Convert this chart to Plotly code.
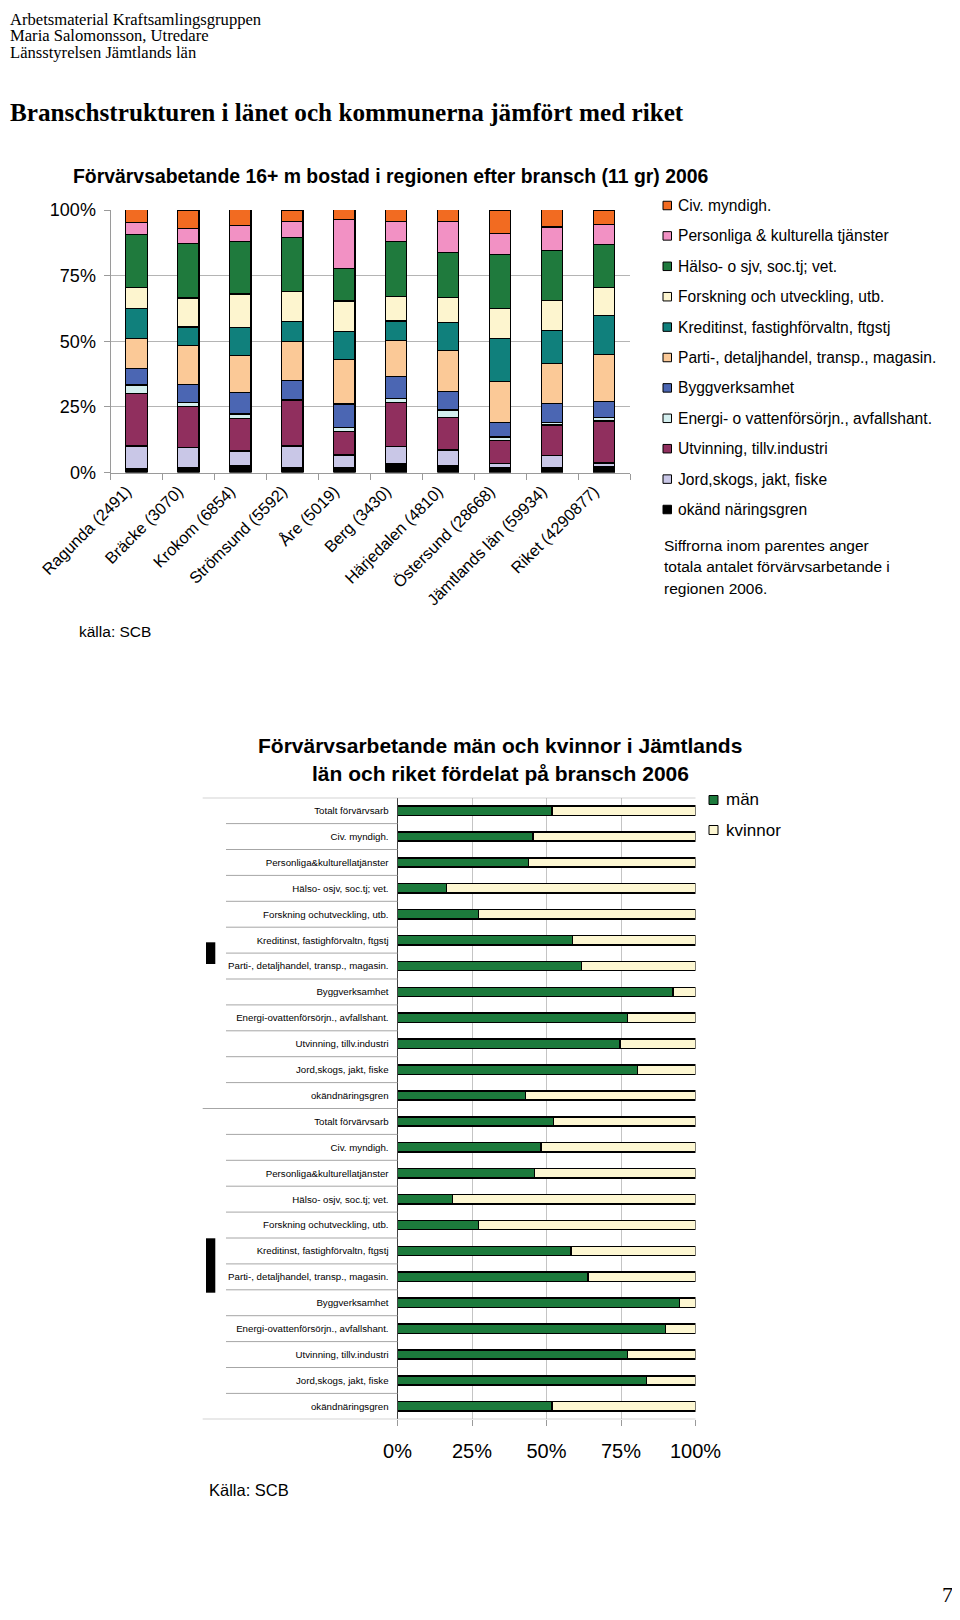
import plotly.graph_objects as go

PAGE_W, PAGE_H = 960, 1620
OFF = 8  # page body margin
W, H = PAGE_W - OFF - 2, PAGE_H - 2 * OFF - 6  # figure fits the window without scrollbars

def px(x):
    return max(0.0, (x - OFF) / W)

def py(y):
    return 1 - (y - OFF) / H

# ---------------- Top chart data ----------------
regions = ["Ragunda (2491)", "Bräcke (3070)", "Krokom (6854)", "Strömsund (5592)", "Åre (5019)",
           "Berg (3430)", "Härjedalen (4810)", "Östersund (28668)", "Jämtlands län (59934)",
           "Riket (4290877)"]

# stacked bottom -> top
okand      = [1.6, 1.8, 2.5, 1.8, 1.8, 3.4, 2.7, 1.9, 1.9, 2.2]
jord       = [8.5, 7.7, 5.7, 8.3, 4.9, 6.5, 5.9, 1.4, 4.5, 1.4]
utvinning  = [20.0, 15.7, 12.4, 17.2, 8.8, 16.9, 12.3, 8.9, 11.7, 16.0]
energi     = [3.2, 1.5, 1.7, 0.6, 1.6, 1.5, 2.9, 1.3, 0.9, 1.4]
bygg       = [6.4, 6.8, 8.3, 7.3, 9.0, 8.2, 7.2, 5.5, 7.4, 5.9]
parti      = [11.5, 14.9, 13.9, 14.8, 16.9, 13.7, 15.4, 15.8, 15.0, 18.2]
kredit     = [11.3, 7.0, 10.7, 7.5, 10.8, 7.5, 10.8, 16.3, 12.6, 14.6]
forskning  = [8.0, 11.1, 12.8, 11.6, 11.5, 9.3, 9.4, 11.4, 11.4, 10.7]
halso      = [20.2, 20.8, 20.0, 20.3, 12.5, 21.0, 17.3, 20.7, 19.2, 16.6]
personliga = [4.4, 5.7, 6.0, 6.1, 18.5, 7.6, 11.7, 7.9, 8.9, 7.5]
civ        = [5.1, 7.0, 6.1, 4.5, 3.8, 4.5, 4.5, 8.9, 6.6, 5.4]

series_names = ["okänd näringsgren", "Jord,skogs, jakt, fiske", "Utvinning, tillv.industri",
                "Energi- o vattenförsörjn., avfallshant.", "Byggverksamhet",
                "Parti-, detaljhandel, transp., magasin.", "Kreditinst, fastighförvaltn, ftgstj",
                "Forskning och utveckling, utb.", "Hälso- o sjv, soc.tj; vet.",
                "Personliga & kulturella tjänster", "Civ. myndigh."]
series_values = [okand, jord, utvinning, energi, bygg, parti, kredit, forskning, halso, personliga, civ]
series_colors = ["#000000", "#C9C7E7", "#902F5E", "#D4EFEF", "#4B66B3", "#FBC997",
                 "#10807C", "#FDF5CF", "#1F7A3D", "#F291C4", "#F26B21"]

y_ticks = [0, 25, 50, 75, 100]
y_ticktext = ["0%", "25%", "50%", "75%", "100%"]

# ---------------- Bottom chart data ----------------
industries = ["Totalt förvärvsarb", "Civ. myndigh.", "Personliga&kulturellatjänster",
              "Hälso- osjv, soc.tj; vet.", "Forskning ochutveckling, utb.",
              "Kreditinst, fastighförvaltn, ftgstj", "Parti-, detaljhandel, transp., magasin.",
              "Byggverksamhet", "Energi-ovattenförsörjn., avfallshant.", "Utvinning, tillv.industri",
              "Jord,skogs, jakt, fiske", "okändnäringsgren"]
groups = ["Riket", "Jämtlands län"]
man_g1     = [51.8, 45.4, 44.0, 16.5, 27.1, 58.8, 61.8, 92.5, 77.2, 74.6, 80.5, 42.9]
kvinnor_g1 = [48.2, 54.6, 56.0, 83.5, 72.9, 41.2, 38.2, 7.5, 22.8, 25.4, 19.5, 57.1]
man_g2     = [52.4, 48.2, 46.0, 18.5, 27.1, 58.2, 64.0, 94.7, 90.0, 77.2, 83.5, 51.9]
kvinnor_g2 = [47.6, 51.8, 54.0, 81.5, 72.9, 41.8, 36.0, 5.3, 10.0, 22.8, 16.5, 48.1]
sex_names = ["män", "kvinnor"]
sex_colors = ["#1C7A3C", "#FDF7D2"]

FONT = "Liberation Sans, Arial, sans-serif"
SERIF = "Liberation Serif, Times New Roman, serif"

fig = go.Figure()

for name, vals, col in zip(series_names, series_values, series_colors):
    fig.add_trace(go.Bar(x=regions, y=vals, name=name, width=0.41,
                         marker=dict(color=col, line=dict(color="black", width=1.2)),
                         xaxis="x", yaxis="y", showlegend=False))

n = len(industries)
pos_g1 = list(range(n))
pos_g2 = [n + i for i in range(n)]
for pos, man, kv in [(pos_g1, man_g1, kvinnor_g1), (pos_g2, man_g2, kvinnor_g2)]:
    for vals, col, nm in [(man, sex_colors[0], sex_names[0]), (kv, sex_colors[1], sex_names[1])]:
        fig.add_trace(go.Bar(y=pos, x=vals, orientation="h", name=nm, width=0.36,
                             marker=dict(color=col, line=dict(color="black", width=1.5)),
                             xaxis="x2", yaxis="y2", showlegend=False))

# Geometry (page pixels)
T_L, T_R, T_TOP, T_BOT = 110.5, 630, 210, 472.5
B_L, B_R, B_TOP, B_BOT = 397.5, 695.5, 797.7, 1419.3

fig.update_layout(
    template="none",
    width=W, height=H, margin=dict(l=0, r=0, t=0, b=0, autoexpand=False),
    paper_bgcolor="white", plot_bgcolor="white",
    barmode="stack", bargap=0.5,
    font=dict(family=FONT, color="black"),
    xaxis=dict(domain=[px(T_L), px(T_R)], anchor="y", type="category", range=[-0.5, 9.5],
               tickangle=-45, tickfont=dict(size=16.3), showline=True, linecolor="#9A9A9A",
               ticks="outside", ticklen=6, tickcolor="#9A9A9A", tickson="boundaries",
               ticklabelshift=-10, ticklabelstandoff=2,
               showgrid=False, zeroline=False, automargin=False),
    yaxis=dict(domain=[py(T_BOT), py(T_TOP)], anchor="x", range=[0, 100],
               tickvals=y_ticks, ticktext=y_ticktext, tickfont=dict(size=18),
               showgrid=True, gridcolor="#B4B4B4", showline=True, linecolor="#9A9A9A",
               ticks="outside", ticklen=6, tickcolor="#9A9A9A", zeroline=False,
               ticklabelstandoff=4, automargin=False),
    xaxis2=dict(domain=[px(B_L), px(B_R)], anchor="y2", range=[0, 100],
                tickvals=y_ticks, ticktext=y_ticktext, tickfont=dict(size=20),
                showgrid=True, gridcolor="#C4C4C4", showline=False,
                ticks="outside", ticklen=6, tickcolor="#9A9A9A", zeroline=False,
                ticklabelstandoff=8, automargin=False),
    yaxis2=dict(domain=[py(B_BOT), py(B_TOP)], anchor="x2", range=[2 * n - 0.5, -0.5],
                tickvals=pos_g1 + pos_g2, ticktext=industries + industries,
                tickfont=dict(size=9.7), ticks="", showgrid=False, zeroline=False,
                showline=True, linecolor="#444444", ticklabelstandoff=6, automargin=False),
)

shapes = []
# bottom chart category separators
for g in range(2):
    for i in range(n - 1):
        yv = g * n + i + 0.5
        shapes.append(dict(type="line", xref="paper", yref="y2", x0=px(226), x1=px(B_L),
                           y0=yv, y1=yv, line=dict(color="#A6A6A6", width=1)))
# group boundaries
for yv, x1 in [(-0.5, B_R), (n - 0.5, B_L), (2 * n - 0.5, B_R)]:
    shapes.append(dict(type="line", xref="paper", yref="y2", x0=px(202.7), x1=px(x1),
                       y0=yv, y1=yv, line=dict(color="#A6A6A6", width=1.2)))
# group label blocks
for y0, y1 in [(942.3, 964), (1238.3, 1292.7)]:
    shapes.append(dict(type="rect", xref="paper", yref="paper", x0=px(206), x1=px(215.3),
                       y0=py(y1), y1=py(y0), fillcolor="black", line=dict(width=0)))

annotations = []
# header text
for i, t in enumerate(["Arbetsmaterial Kraftsamlingsgruppen", "Maria Salomonsson, Utredare",
                       "Länsstyrelsen Jämtlands län"]):
    annotations.append(dict(text=t, x=px(3), y=py(19 + 16.6 * i), xref="paper", yref="paper",
                            xanchor="left", yanchor="middle", showarrow=False,
                            font=dict(family=SERIF, size=16.6)))
annotations.append(dict(text="<b>Branschstrukturen i länet och kommunerna jämfört med riket</b>",
                        x=px(5), y=py(112), xref="paper", yref="paper", xanchor="left",
                        yanchor="middle", showarrow=False, font=dict(family=SERIF, size=25.2)))
annotations.append(dict(text="<b>Förvärvsabetande 16+ m bostad i regionen efter bransch (11 gr) 2006</b>",
                        x=px(390), y=py(176), xref="paper", yref="paper", xanchor="center",
                        yanchor="middle", showarrow=False, font=dict(size=19.4)))

# top legend (top to bottom = reversed stack order)
leg_y0, leg_dy = 205.5, 30.4
for k, (name, col) in enumerate(zip(series_names[::-1], series_colors[::-1])):
    yc = leg_y0 + leg_dy * k
    shapes.append(dict(type="rect", xref="paper", yref="paper", x0=px(663), x1=px(671.5),
                       y0=py(yc + 4.25), y1=py(yc - 4.25), fillcolor=col,
                       line=dict(color="black", width=1)))
    annotations.append(dict(text=name, x=px(676), y=py(yc), xref="paper", yref="paper",
                            xanchor="left", yanchor="middle", showarrow=False,
                            font=dict(size=15.6)))

for i, t in enumerate(["Siffrorna inom parentes anger", "totala antalet förvärvsarbetande i",
                       "regionen 2006."]):
    annotations.append(dict(text=t, x=px(662), y=py(545 + 21.8 * i), xref="paper", yref="paper",
                            xanchor="left", yanchor="middle", showarrow=False,
                            font=dict(size=15.5)))

annotations.append(dict(text="källa: SCB", x=px(77), y=py(631), xref="paper", yref="paper",
                        xanchor="left", yanchor="middle", showarrow=False, font=dict(size=15.5)))

# bottom title
annotations.append(dict(text="<b>Förvärvsarbetande män och kvinnor i Jämtlands</b>", x=px(500),
                        y=py(745), xref="paper", yref="paper", xanchor="center", yanchor="middle",
                        showarrow=False, font=dict(size=21)))
annotations.append(dict(text="<b>län och riket fördelat på bransch 2006</b>", x=px(500),
                        y=py(773), xref="paper", yref="paper", xanchor="center", yanchor="middle",
                        showarrow=False, font=dict(size=21)))

# bottom legend
for k, (nm, col) in enumerate(zip(sex_names, sex_colors)):
    yc = 800 + 30 * k
    shapes.append(dict(type="rect", xref="paper", yref="paper", x0=px(709), x1=px(718),
                       y0=py(yc + 4.5), y1=py(yc - 4.5), fillcolor=col,
                       line=dict(color="black", width=1)))
    annotations.append(dict(text=nm, x=px(724), y=py(yc), xref="paper", yref="paper",
                            xanchor="left", yanchor="middle", showarrow=False,
                            font=dict(size=17)))

annotations.append(dict(text="Källa: SCB", x=px(207), y=py(1490), xref="paper", yref="paper",
                        xanchor="left", yanchor="middle", showarrow=False, font=dict(size=16.5)))
annotations.append(dict(text="7", x=px(947), y=py(1594), xref="paper", yref="paper",
                        xanchor="center", yanchor="middle", showarrow=False,
                        font=dict(family=SERIF, size=22)))

fig.update_layout(shapes=shapes, annotations=annotations)
fig.write_html("out.html")
